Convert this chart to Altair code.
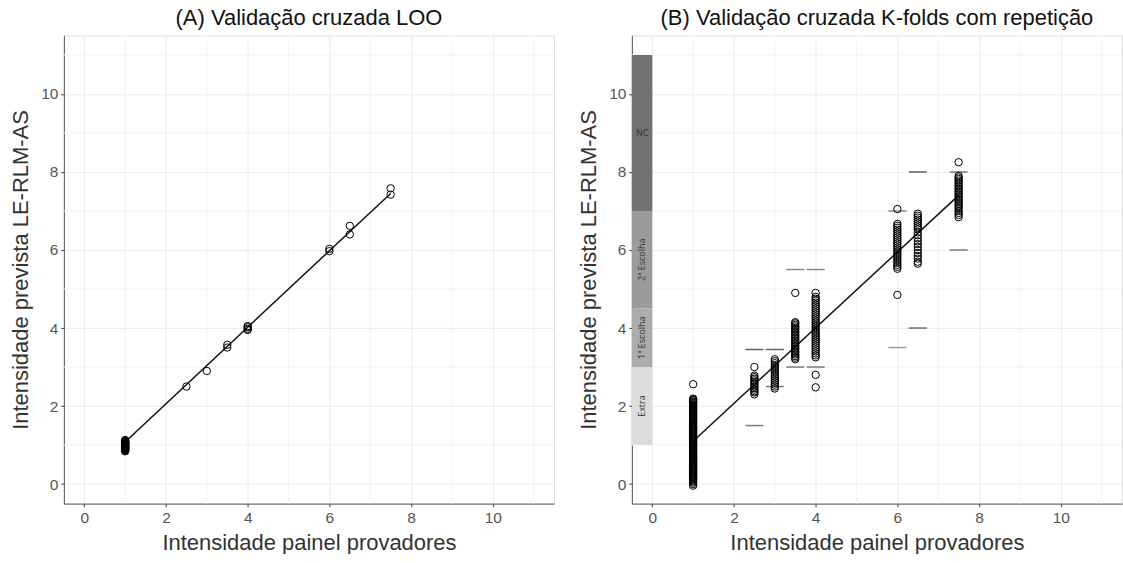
import altair as alt
import pandas as pd

# ---------------- data ----------------
# Panel A (LOO)
a_x1 = [0.84, 0.86, 0.87, 0.88, 0.89, 0.9, 0.91, 0.92, 0.93, 0.94, 0.95, 0.96, 0.97,
        0.98, 0.99, 1.0, 1.01, 1.02, 1.03, 1.04, 1.05, 1.06, 1.07, 1.08, 1.09, 1.1, 1.11, 1.13]
a_x = [1]*len(a_x1) + [2.5, 3, 3.5, 3.5, 4, 4, 4, 4, 6, 6, 6.5, 6.5, 7.5, 7.5]
a_y = a_x1 + [2.5, 2.9, 3.5, 3.57, 3.95, 3.98, 4.02, 4.05, 5.97, 6.03, 6.4, 6.62, 7.42, 7.58]

# Panel B (K-folds with repetition)
b_x1 = [2.56, 2.19, 2.17, 2.15, 2.12, 2.1, 2.08, 2.05, 2.03, 2.0, 1.98, 1.95, 1.93,
        1.9, 1.88, 1.85, 1.83, 1.8, 1.77, 1.75, 1.72, 1.7, 1.67, 1.65, 1.62, 1.6,
        1.57, 1.55, 1.52, 1.5, 1.47, 1.45, 1.42, 1.4, 1.37, 1.35, 1.32, 1.3, 1.27,
        1.25, 1.22, 1.2, 1.17, 1.15, 1.12, 1.1, 1.07, 1.05, 1.02, 1.0, 0.97, 0.95,
        0.92, 0.9, 0.87, 0.85, 0.82, 0.8, 0.77, 0.75, 0.72, 0.7, 0.67, 0.65, 0.62,
        0.6, 0.57, 0.55, 0.52, 0.5, 0.47, 0.45, 0.42, 0.4, 0.37, 0.35, 0.32, 0.3,
        0.27, 0.25, 0.22, 0.2, 0.17, 0.15, 0.12, 0.1, 0.07, 0.04, 0.0, -0.04]
b_x25 = [3.0, 2.78, 2.74, 2.7, 2.66, 2.62, 2.58, 2.55, 2.5, 2.46, 2.42, 2.38, 2.35, 2.3]
b_x3 = [3.2, 3.15, 3.1, 3.05, 3.0, 2.95, 2.9, 2.85, 2.8, 2.75, 2.7, 2.65, 2.6, 2.55, 2.5, 2.45]
b_x35 = [4.9, 4.15, 4.12, 4.08, 4.04, 4.0, 3.96, 3.92, 3.88, 3.84, 3.8, 3.76, 3.72, 3.68,
         3.64, 3.6, 3.56, 3.52, 3.48, 3.44, 3.4, 3.36, 3.32, 3.28, 3.24, 3.2]
b_x4 = [4.9, 4.8, 4.75, 4.7, 4.65, 4.6, 4.55, 4.5, 4.45, 4.4, 4.35, 4.3, 4.25, 4.2, 4.15,
        4.1, 4.05, 4.0, 3.95, 3.9, 3.85, 3.8, 3.75, 3.7, 3.65, 3.6, 3.55, 3.5, 3.45, 3.4,
        3.35, 3.3, 3.25, 2.8, 2.48]
b_x6 = [7.05, 6.67, 6.62, 6.57, 6.52, 6.47, 6.42, 6.37, 6.32, 6.27, 6.22, 6.17, 6.12,
        6.07, 6.02, 5.97, 5.92, 5.87, 5.82, 5.77, 5.72, 5.67, 5.62, 5.57, 5.52, 4.85]
b_x65 = [6.93, 6.88, 6.83, 6.78, 6.73, 6.68, 6.63, 6.58, 6.53, 6.45, 6.38, 6.3, 6.22,
         6.15, 6.08, 6.0, 5.92, 5.85, 5.78, 5.7, 5.65]
b_x75 = [8.25, 7.9, 7.86, 7.82, 7.78, 7.74, 7.7, 7.66, 7.62, 7.58, 7.54, 7.5, 7.46,
         7.42, 7.38, 7.34, 7.3, 7.26, 7.22, 7.18, 7.14, 7.1, 7.05, 7.0, 6.95, 6.9, 6.84]
b_groups = [(1, b_x1), (2.5, b_x25), (3, b_x3), (3.5, b_x35), (4, b_x4),
            (6, b_x6), (6.5, b_x65), (7.5, b_x75)]

# limit dashes in panel B
dash_x = [2.5, 2.5, 3, 3, 3.5, 3.5, 4, 4, 6, 6, 6.5, 6.5, 7.5, 7.5]
dash_y = [3.45, 1.5, 3.45, 2.5, 5.5, 3.0, 5.5, 3.0, 7.0, 3.5, 8.0, 4.0, 8.0, 6.0]
dash_c = ["#222", "#444", "#222", "#444", "#555", "#444", "#555", "#444",
          "#555", "#777", "#222", "#333", "#444", "#444"]

# fitted lines
line_x = [1, 7.5]
line_a = [1.08, 7.45]
line_b = [1.1, 7.4]

# class bands (panel B)
band_names = ["Extra", "1ª Escolha", "2ª Escolha", "NC"]
band_lo = [1, 3, 4.5, 7]
band_hi = [3, 4.5, 7, 11]
band_colors = ["#dcdcdc", "#acacac", "#9b9b9b", "#717171"]
band_angle = [270, 270, 270, 0]
band_x0 = [-0.5]*4
band_x1 = [0]*4

major = [0, 2, 4, 6, 8, 10]
minor = [1, 3, 5, 7, 9, 11]

# ---------------- frames ----------------
dfA = pd.DataFrame({"x": a_x, "y": a_y})
dfB = pd.DataFrame({"x": [gx for gx, ys in b_groups for _ in ys],
                    "y": [v for _, ys in b_groups for v in ys]})
dfD = pd.DataFrame({"x": dash_x, "y": dash_y, "c": dash_c})
dfLA = pd.DataFrame({"x": line_x, "y": line_a})
dfLB = pd.DataFrame({"x": line_x, "y": line_b})
dfBand = pd.DataFrame({"name": band_names, "lo": band_lo, "hi": band_hi,
                       "color": band_colors, "angle": band_angle,
                       "x0": band_x0, "x1": band_x1})
dfBand["mid"] = (dfBand["lo"] + dfBand["hi"]) / 2
dfBand["xm"] = (dfBand["x0"] + dfBand["x1"]) / 2
dfMinor = pd.DataFrame({"v": minor})

W, H = 491, 469
FONT = "Liberation Sans"
xs = alt.Scale(domain=[-0.5, 11.5], nice=False, zero=False)
ys = alt.Scale(domain=[-0.5, 11.5], nice=False, zero=False)

def xaxis():
    return alt.Axis(values=major, grid=True, gridColor="#ebebeb", title="Intensidade painel provadores",
                    labelFontSize=15.5, labelColor="#555", titleFontSize=22, titleColor="#333",
                    titleFontWeight="normal", tickColor="#333", tickSize=3, labelPadding=4,
                    domainColor="#555", titlePadding=6, labelFont=FONT, titleFont=FONT)

def yaxis():
    return alt.Axis(values=major, grid=True, gridColor="#ebebeb", title="Intensidade prevista LE-RLM-AS",
                    labelFontSize=15.5, labelColor="#555", titleFontSize=22, titleColor="#333",
                    titleFontWeight="normal", tickColor="#333", tickSize=3, labelPadding=3,
                    domainColor="#555", titlePadding=8, labelFont=FONT, titleFont=FONT)

def panel(df_pts, df_line, title, extra_layers=()):
    gx = alt.Chart(dfMinor).mark_rule(color="#f3f3f3", strokeWidth=1).encode(
        x=alt.X("v:Q", scale=xs, axis=xaxis()))
    gy = alt.Chart(dfMinor).mark_rule(color="#f3f3f3", strokeWidth=1).encode(
        y=alt.Y("v:Q", scale=ys, axis=yaxis()))
    pts = alt.Chart(df_pts).mark_point(shape="circle", filled=False, color="black",
                                       size=55, strokeWidth=1, opacity=1).encode(
        x=alt.X("x:Q", scale=xs), y=alt.Y("y:Q", scale=ys))
    ln = alt.Chart(df_line).mark_line(color="#111", strokeWidth=1.5).encode(
        x=alt.X("x:Q", scale=xs), y=alt.Y("y:Q", scale=ys))
    layers = [gx, gy] + list(extra_layers) + [ln, pts]
    return alt.layer(*layers).properties(
        width=W, height=H,
        title=alt.TitleParams(title, fontSize=22, font=FONT, fontWeight="normal",
                              color="#111", offset=5, anchor="middle"))

bands = alt.Chart(dfBand).mark_rect().encode(
    x=alt.X("x0:Q", scale=xs), x2="x1:Q",
    y=alt.Y("lo:Q", scale=ys), y2="hi:Q",
    color=alt.Color("color:N", scale=None))
band_txt_rot = alt.Chart(dfBand).transform_filter("datum.angle == 270").mark_text(
    angle=270, fontSize=9, font="Open Sans", color="#333").encode(
    x=alt.X("xm:Q", scale=xs), y=alt.Y("mid:Q", scale=ys), text="name:N")
band_txt_h = alt.Chart(dfBand).transform_filter("datum.angle == 0").mark_text(
    angle=0, fontSize=9, font="Open Sans", color="#333").encode(
    x=alt.X("xm:Q", scale=xs), y=alt.Y("mid:Q", scale=ys), text="name:N")
dashes = alt.Chart(dfD).mark_tick(orient="horizontal", size=18, thickness=1.5).encode(
    x=alt.X("x:Q", scale=xs), y=alt.Y("y:Q", scale=ys),
    color=alt.Color("c:N", scale=None))

pA = panel(dfA, dfLA, "(A) Validação cruzada LOO")
pB = panel(dfB, dfLB, "(B) Validação cruzada K-folds com repetição",
           extra_layers=[bands, band_txt_rot, band_txt_h, dashes])

chart = alt.hconcat(pA, pB, spacing=22).properties(
    padding={"left": 9, "top": 6, "right": 0, "bottom": 0}
).configure_view(stroke="#aaa", strokeWidth=1).configure(background="white")

chart.save("out.html", embed_options={"renderer": "svg", "actions": False})
